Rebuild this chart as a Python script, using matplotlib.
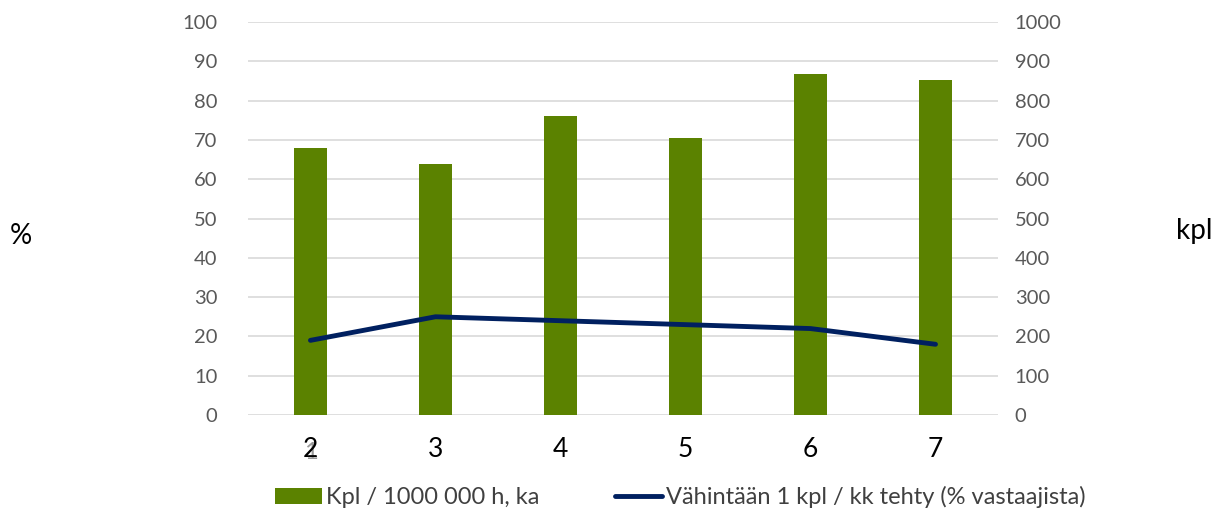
import numpy as np
import matplotlib.pyplot as plt

plt.rcParams['font.family'] = ['Lato', 'DejaVu Sans']

categories = ["2", "3", "4", "5", "6", "7"]
kpl_values = [680, 640, 760, 705, 868, 852]
pct_values = [19, 25, 24, 23, 22, 18]

bar_color = "#5B8200"
line_color = "#002060"
tick_gray = "#595959"

fig = plt.figure(figsize=(12.19, 5.13), dpi=100)
ax = fig.add_axes([0.2034, 0.191, 0.6153, 0.766])
ax2 = ax.twinx()

x = np.arange(len(categories))

# pylväät oikealla akselilla (kpl), viiva vasemmalla (%)
ax2.bar(x, kpl_values, width=0.27, color=bar_color,
        label="Kpl / 1000 000 h, ka", zorder=2)
ax.plot(x, pct_values, color=line_color, linewidth=3.5,
        solid_capstyle='round', label="Vähintään 1 kpl / kk tehty (% vastaajista)")

ax.set_zorder(ax2.get_zorder() + 1)
ax.patch.set_visible(False)

ax.set_xlim(-0.5, len(categories) - 0.5)
ax.set_ylim(0, 100)
ax2.set_ylim(0, 1000)
ax.set_yticks(np.arange(0, 101, 10))
ax2.set_yticks(np.arange(0, 1001, 100))

for y in np.arange(0, 101, 10):
    ax2.axhline(y * 10, color="#D9D9D9", linewidth=1.2, zorder=0)

for a in (ax, ax2):
    for s in a.spines.values():
        s.set_visible(False)
    a.tick_params(length=0)

ax.tick_params(axis='y', labelsize=14.5, labelcolor=tick_gray, pad=22)
ax2.tick_params(axis='y', labelsize=14.5, labelcolor=tick_gray, pad=12)
ax.set_xticks(x)
ax.set_xticklabels(categories, fontsize=19, color="black")
ax.tick_params(axis='x', pad=16)

# haalea "1" ensimmäisen luokan "2":n takana kuten alkuperäisessä
ax.text(x[0], -0.095, "1", transform=ax.get_xaxis_transform(), fontsize=17,
        color="#9A9A9A", ha='center', va='center', zorder=0)

fig.text(0.008, 0.54, "%", fontsize=20, ha='left', va='center')
fig.text(0.965, 0.55, "kpl", fontsize=20, ha='left', va='center')

h1, l1 = ax2.get_legend_handles_labels()
h2, l2 = ax.get_legend_handles_labels()
fig.legend(h1 + h2, l1 + l2, loc='center', bbox_to_anchor=(0.558, 0.031),
           ncol=2, frameon=False, fontsize=17, handlelength=2.0,
           handletextpad=0.15, columnspacing=3.2, labelcolor="#404040")

fig.savefig("out.png", dpi=100)
